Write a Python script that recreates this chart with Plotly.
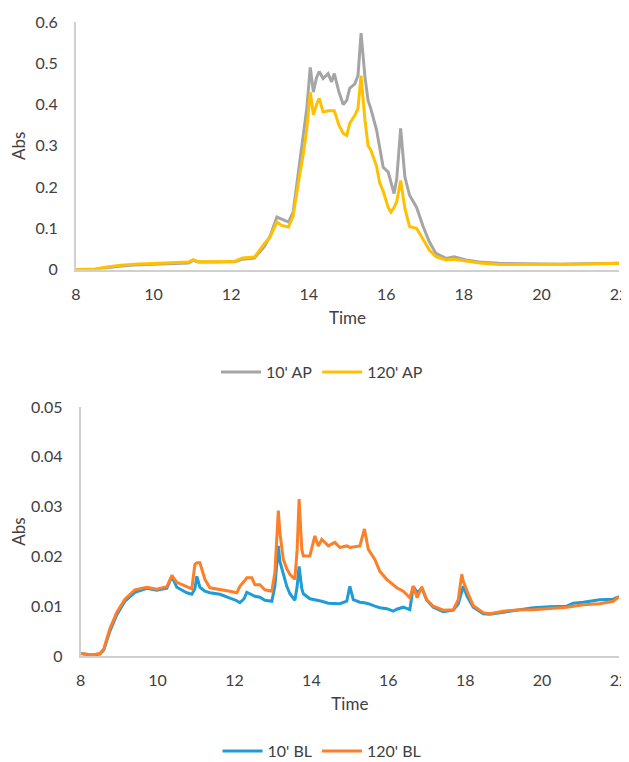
import plotly.graph_objects as go

# ---- Top chart: AP ----
time_ap = [8.0, 8.5, 8.8, 9.1, 9.5, 10.0, 10.5, 10.9, 11.02, 11.15, 11.6, 12.1, 12.3, 12.6,
           12.85, 13.0, 13.18, 13.3, 13.48, 13.6, 13.75, 13.86, 13.95, 14.04, 14.12, 14.2,
           14.27, 14.37, 14.5, 14.59, 14.66, 14.78, 14.89, 14.98, 15.06, 15.19, 15.27, 15.35,
           15.45, 15.53, 15.6, 15.75, 15.83, 15.92, 16.05, 16.12, 16.2, 16.27, 16.37, 16.48,
           16.6, 16.78, 16.95, 17.11, 17.28, 17.54, 17.75, 18.05, 18.4, 18.9, 19.5, 20.0,
           20.5, 21.0, 21.5, 22.0]
ap_10 = [0.000, 0.000, 0.004, 0.008, 0.011, 0.013, 0.014, 0.016, 0.022, 0.018, 0.018, 0.019,
         0.025, 0.028, 0.055, 0.080, 0.127, 0.122, 0.115, 0.140, 0.250, 0.320, 0.390, 0.490,
         0.430, 0.465, 0.480, 0.463, 0.475, 0.455, 0.475, 0.430, 0.400, 0.410, 0.440, 0.450,
         0.470, 0.573, 0.467, 0.410, 0.390, 0.338, 0.300, 0.248, 0.236, 0.210, 0.184, 0.220,
         0.342, 0.224, 0.180, 0.151, 0.104, 0.067, 0.039, 0.027, 0.031, 0.023, 0.018, 0.015,
         0.014, 0.014, 0.013, 0.014, 0.014, 0.015]
ap_120 = [0.000, 0.001, 0.006, 0.010, 0.013, 0.015, 0.016, 0.018, 0.024, 0.019, 0.019, 0.020,
          0.028, 0.030, 0.062, 0.078, 0.115, 0.107, 0.103, 0.130, 0.220, 0.280, 0.340, 0.430,
          0.375, 0.400, 0.415, 0.382, 0.385, 0.385, 0.385, 0.350, 0.330, 0.325, 0.355, 0.374,
          0.390, 0.470, 0.362, 0.300, 0.290, 0.250, 0.210, 0.190, 0.150, 0.139, 0.150, 0.165,
          0.216, 0.148, 0.104, 0.100, 0.071, 0.047, 0.031, 0.023, 0.025, 0.020, 0.016, 0.012,
          0.013, 0.013, 0.013, 0.013, 0.014, 0.015]

# ---- Bottom chart: BL ----
time_bl = [8.0, 8.3, 8.5, 8.6, 8.76, 8.94, 9.15, 9.41, 9.72, 9.98, 10.24, 10.37, 10.5, 10.76,
           10.89, 10.97, 11.02, 11.1, 11.23, 11.36, 11.62, 11.88, 12.06, 12.14, 12.25, 12.32,
           12.45, 12.53, 12.66, 12.79, 12.97, 13.05, 13.14, 13.18, 13.27, 13.36, 13.44, 13.57,
           13.63, 13.68, 13.75, 13.79, 13.96, 14.09, 14.18, 14.27, 14.44, 14.61, 14.74, 14.92,
           15.0, 15.09, 15.26, 15.38, 15.48, 15.65, 15.78, 15.96, 16.13, 16.22, 16.39, 16.56,
           16.65, 16.75, 16.87, 17.0, 17.17, 17.43, 17.69, 17.82, 17.91, 17.95, 18.05, 18.21,
           18.47, 18.64, 18.99, 19.43, 19.77, 20.2, 20.64, 20.81, 21.07, 21.5, 21.85, 22.0]
bl_10 = [0.0005, 0.0002, 0.0004, 0.0012, 0.0050, 0.0083, 0.0110, 0.0128, 0.0136, 0.0132,
         0.0136, 0.0160, 0.0138, 0.0127, 0.0124, 0.0135, 0.0160, 0.0138, 0.0130, 0.0127,
         0.0124, 0.0117, 0.0111, 0.0107, 0.0115, 0.0128, 0.0124, 0.0120, 0.0118, 0.0112,
         0.0110, 0.0140, 0.0221, 0.0190, 0.0165, 0.0140, 0.0125, 0.0112, 0.0140, 0.0180,
         0.0135, 0.0125, 0.0115, 0.0113, 0.0112, 0.0110, 0.0106, 0.0105, 0.0105, 0.0110,
         0.0140, 0.0113, 0.0108, 0.0107, 0.0105, 0.0100, 0.0097, 0.0095, 0.0090, 0.0094,
         0.0098, 0.0093, 0.0140, 0.0127, 0.0136, 0.0112, 0.0098, 0.0089, 0.0092, 0.0105,
         0.0130, 0.0140, 0.0120, 0.0098, 0.0085, 0.0084, 0.0088, 0.0093, 0.0097, 0.0099,
         0.0100, 0.0106, 0.0108, 0.0113, 0.0114, 0.0119]
bl_120 = [0.0005, 0.0002, 0.0005, 0.0014, 0.0055, 0.0088, 0.0114, 0.0133, 0.0138, 0.0134,
          0.0139, 0.0162, 0.0148, 0.0140, 0.0135, 0.0184, 0.0187, 0.0187, 0.0154, 0.0137,
          0.0134, 0.0130, 0.0127, 0.0140, 0.0150, 0.0157, 0.0157, 0.0143, 0.0143, 0.0133,
          0.0130, 0.0167, 0.0292, 0.0248, 0.0194, 0.0175, 0.0164, 0.0154, 0.0214, 0.0315,
          0.0214, 0.0201, 0.0201, 0.0241, 0.0221, 0.0234, 0.0221, 0.0228, 0.0218, 0.0221,
          0.0218, 0.0219, 0.0221, 0.0255, 0.0214, 0.0194, 0.0170, 0.0154, 0.0142, 0.0137,
          0.0130, 0.0117, 0.0140, 0.0117, 0.0139, 0.0113, 0.0100, 0.0092, 0.0093, 0.0113,
          0.0164, 0.0150, 0.0130, 0.0101, 0.0087, 0.0085, 0.0090, 0.0093, 0.0093, 0.0095,
          0.0098, 0.0100, 0.0103, 0.0105, 0.0110, 0.0119]

x_ticks = [8, 10, 12, 14, 16, 18, 20, 22]
y_ticks_ap = [0, 0.1, 0.2, 0.3, 0.4, 0.5, 0.6]
y_ticks_bl = [0, 0.01, 0.02, 0.03, 0.04, 0.05]

FONT = "Lato"
TXT = "#404040"
AXC = "#d0d0d0"
W, H = 629, 762
OFF = 8  # page body margin offset
ML, MR, MT, MB = 0, 0, 0, 0
PW, PH = W - ML - MR, H - MT - MB


def fx(px):
    return (px - OFF - ML) / PW


def fy(py):
    return (H - MB - (py - OFF)) / PH


fig = go.Figure()
fig.add_trace(go.Scatter(x=time_ap, y=ap_10, name="10' AP", mode="lines",
                         line=dict(color="#a5a5a5", width=3), xaxis="x", yaxis="y",
                         legend="legend"))
fig.add_trace(go.Scatter(x=time_ap, y=ap_120, name="120' AP", mode="lines",
                         line=dict(color="#ffc000", width=3), xaxis="x", yaxis="y",
                         legend="legend"))
fig.add_trace(go.Scatter(x=time_bl, y=bl_10, name="10' BL", mode="lines",
                         line=dict(color="#1f9bd7", width=3), xaxis="x2", yaxis="y2",
                         legend="legend2"))
fig.add_trace(go.Scatter(x=time_bl, y=bl_120, name="120' BL", mode="lines",
                         line=dict(color="#fd7f28", width=3), xaxis="x2", yaxis="y2",
                         legend="legend2"))


def xax(domain, anchor):
    return dict(domain=domain, anchor=anchor, range=[8, 22], tickvals=x_ticks,
                showgrid=False, zeroline=False, showline=True, linecolor=AXC, linewidth=2,
                ticks="outside", ticklen=9, tickcolor="rgba(0,0,0,0)", automargin=False,
                tickfont=dict(family=FONT, size=16, color=TXT),
                title=dict(text="Time", font=dict(family=FONT, size=17, color=TXT), standoff=10))


def yax(domain, anchor, rng, vals):
    return dict(domain=domain, anchor=anchor, range=rng, tickvals=vals,
                showgrid=False, zeroline=False, showline=True, linecolor=AXC, linewidth=2,
                ticks="outside", ticklen=13, tickcolor="rgba(0,0,0,0)", automargin=False,
                tickfont=dict(family=FONT, size=16, color=TXT),
                title=dict(text="Abs", font=dict(family=FONT, size=17, color=TXT), standoff=12))


fig.update_layout(
    width=W, height=H,
    margin=dict(l=ML, r=MR, t=MT, b=MB, autoexpand=False),
    paper_bgcolor="white", plot_bgcolor="white",
    showlegend=True,
    xaxis=xax([fx(76), fx(619)], "y"),
    yaxis=yax([fy(269.5), fy(22)], "x", [0, 0.6], y_ticks_ap),
    xaxis2=xax([fx(80.7), fx(619)], "y2"),
    yaxis2=yax([fy(656), fy(407)], "x2", [0, 0.05], y_ticks_bl),
    legend=dict(orientation="h", x=fx(322), y=fy(372), xanchor="center", yanchor="middle",
                font=dict(family=FONT, size=16, color=TXT), bgcolor="rgba(0,0,0,0)",
                itemwidth=40, tracegroupgap=0),
    legend2=dict(orientation="h", x=fx(322), y=fy(751), xanchor="center", yanchor="middle",
                 font=dict(family=FONT, size=16, color=TXT), bgcolor="rgba(0,0,0,0)",
                 itemwidth=40, tracegroupgap=0),
)

fig.write_html("out.html")
